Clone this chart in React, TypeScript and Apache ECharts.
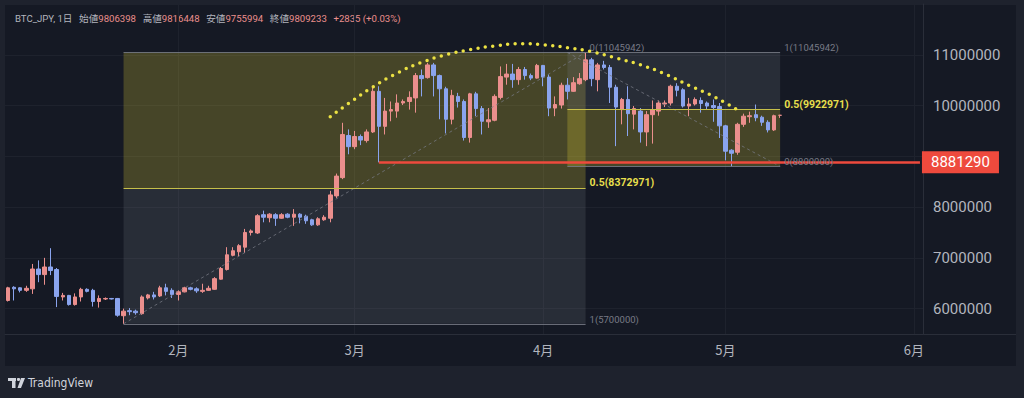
import React, { useEffect, useRef } from 'react';
import * as echarts from 'echarts';

// ---------- header ----------
const SYMBOL = 'BTC_JPY, 1日';
const HEADER_LABELS = ['始値', '高値', '安値', '終値'];
const HEADER_VALUES = ['9806398', '9816448', '9755994', '9809233'];
const HEADER_CHANGE = '+2835 (+0.03%)';

// ---------- axis ----------
const FIRST_DAY = '2024-01-04';
const AXIS_DAYS = 151; // Jan 4 .. Jun 2
const Y_LABELS = [6000000, 7000000, 8000000, 10000000, 11000000];
const GRID_PRICES = [6000000, 7000000, 8000000, 9000000, 10000000, 11000000];

// ---------- daily candles (Jan 4 .. May 10, 2024) ----------
const OPEN = [
  6160000, 6420000, 6410000, 6360000, 6390000, 6780000, 6670000, 6820000, 6770000, 6230000,
  6260000, 6080000, 6230000, 6380000, 6360000, 6140000, 6190000, 6200000, 6200000, 5860000,
  5960000, 5950000, 5900000, 6210000, 6270000, 6250000, 6410000, 6360000, 6280000, 6330000,
  6410000, 6390000, 6340000, 6360000, 6380000, 6580000, 6770000, 7050000, 7120000, 7210000,
  7500000, 7490000, 7850000, 7790000, 7850000, 7780000, 7860000, 7800000, 7860000, 7820000,
  7750000, 7650000, 7750000, 7780000, 8220000, 8580000, 9410000, 9190000, 9390000, 9310000,
  9480000, 10280000, 9590000, 9890000, 9890000, 10050000, 10080000, 10150000, 10590000, 10550000,
  10800000, 10590000, 10330000, 9730000, 10180000, 10080000, 9370000, 10230000, 9940000, 9680000,
  9710000, 10160000, 10560000, 10620000, 10510000, 10710000, 10590000, 10540000, 10790000, 10560000,
  9950000, 10010000, 10400000, 10280000, 10430000, 10510000, 10900000, 10510000, 10800000, 10750000,
  10360000, 9920000, 10120000, 9830000, 9890000, 9480000, 9820000, 9890000, 10030000, 10050000,
  10380000, 10310000, 9990000, 10030000, 10100000, 10050000, 10000000, 9980000, 9600000, 9120000,
  9080000, 9630000, 9780000, 9820000, 9770000, 9670000, 9520000, 9806398,
];
const HIGH = [
  6430000, 6440000, 6420000, 6450000, 6880000, 6950000, 7000000, 7190000, 6800000, 6310000,
  6270000, 6300000, 6410000, 6400000, 6390000, 6260000, 6220000, 6210000, 6210000, 6000000,
  6010000, 5980000, 6260000, 6290000, 6330000, 6450000, 6490000, 6400000, 6360000, 6430000,
  6430000, 6420000, 6490000, 6450000, 6620000, 6820000, 7210000, 7210000, 7270000, 7570000,
  7560000, 7860000, 7930000, 7880000, 7880000, 7880000, 7880000, 7960000, 7880000, 7850000,
  7770000, 7800000, 7840000, 8320000, 8660000, 9660000, 9530000, 9500000, 9430000, 9530000,
  10370000, 10380000, 10150000, 10080000, 10220000, 10120000, 10280000, 10640000, 10710000, 10840000,
  10840000, 10610000, 10370000, 10310000, 10250000, 10120000, 10250000, 10270000, 9990000, 9950000,
  10220000, 10770000, 10820000, 10820000, 10760000, 10760000, 10630000, 10820000, 10800000, 10610000,
  10180000, 10450000, 10540000, 10560000, 10640000, 11045942, 10940000, 10840000, 10880000, 10800000,
  10410000, 10150000, 10380000, 9990000, 9950000, 9890000, 10100000, 10100000, 10100000, 10410000,
  10440000, 10340000, 10150000, 10160000, 10160000, 10080000, 10120000, 10050000, 9620000, 9140000,
  9660000, 9840000, 9880000, 10020000, 9800000, 9710000, 9820000, 9816448,
];
const LOW = [
  6140000, 6160000, 6320000, 6330000, 6290000, 6520000, 6470000, 6660000, 6030000, 6160000,
  6060000, 6060000, 6140000, 6320000, 6040000, 6020000, 6170000, 6180000, 5840000, 5700000,
  5870000, 5880000, 5880000, 6180000, 6180000, 6230000, 6260000, 6210000, 6160000, 6320000,
  6360000, 6310000, 6310000, 6350000, 6370000, 6570000, 6750000, 7030000, 7030000, 7100000,
  7440000, 7470000, 7700000, 7700000, 7630000, 7770000, 7780000, 7630000, 7680000, 7670000,
  7630000, 7630000, 7730000, 7700000, 8180000, 8550000, 9040000, 9140000, 9220000, 9270000,
  9460000, 8881290, 9430000, 9690000, 9760000, 10010000, 9920000, 9860000, 10180000, 10530000,
  10180000, 9730000, 9450000, 9630000, 9960000, 9310000, 9270000, 9790000, 9430000, 9560000,
  9690000, 10120000, 10410000, 10350000, 10410000, 10510000, 10500000, 10530000, 10380000, 9790000,
  9790000, 9940000, 10120000, 10270000, 10410000, 10480000, 10380000, 10280000, 10710000, 10050000,
  9200000, 9630000, 9400000, 9530000, 9270000, 9200000, 9250000, 9800000, 9970000, 10000000,
  10180000, 9960000, 9790000, 10000000, 9860000, 9920000, 9680000, 9360000, 8920000, 8800000,
  9030000, 9580000, 9660000, 9690000, 9600000, 9470000, 9500000, 9755994,
];
const CLOSE = [
  6410000, 6390000, 6360000, 6400000, 6780000, 6670000, 6820000, 6750000, 6240000, 6260000,
  6080000, 6230000, 6380000, 6340000, 6140000, 6200000, 6200000, 6190000, 5870000, 5950000,
  5940000, 5920000, 6230000, 6270000, 6230000, 6410000, 6340000, 6280000, 6330000, 6410000,
  6380000, 6350000, 6360000, 6400000, 6590000, 6790000, 7060000, 7140000, 7240000, 7500000,
  7530000, 7830000, 7800000, 7860000, 7780000, 7850000, 7800000, 7860000, 7800000, 7730000,
  7650000, 7770000, 7800000, 8240000, 8610000, 9430000, 9190000, 9390000, 9320000, 9480000,
  10280000, 9590000, 9890000, 9920000, 10050000, 10080000, 10160000, 10590000, 10530000, 10800000,
  10590000, 10330000, 9730000, 10200000, 10080000, 9370000, 10230000, 9940000, 9690000, 9720000,
  10180000, 10570000, 10620000, 10510000, 10710000, 10590000, 10540000, 10790000, 10560000, 9950000,
  10020000, 10400000, 10280000, 10450000, 10530000, 10900000, 10530000, 10800000, 10750000, 10360000,
  9970000, 10120000, 9840000, 9940000, 9480000, 9820000, 9920000, 10050000, 10050000, 10380000,
  10300000, 9990000, 10030000, 10120000, 10040000, 9990000, 9960000, 9600000, 9100000, 9060000,
  9630000, 9790000, 9800000, 9760000, 9670000, 9520000, 9800000, 9809233,
];

// ---------- drawings ----------
const FIB1_DATES = ['2024-01-23', '2024-04-08'];
const FIB1_LEVELS = [11045942, 8372971, 5700000];
const FIB1_NAMES = ['0', '0.5', '1'];
const FIB2_DATES = ['2024-04-05', '2024-05-10'];
const FIB2_LEVELS = [11045942, 9922971, 8800000];
const FIB2_NAMES = ['1', '0.5', '0'];
const SUPPORT_DATE = '2024-03-05';
const SUPPORT_PRICE = 8881290;
const ARC_DATES = [
  '2024-02-26', '2024-02-29', '2024-03-04', '2024-03-08', '2024-03-12', '2024-03-16',
  '2024-03-20', '2024-03-24', '2024-03-28', '2024-04-01', '2024-04-05', '2024-04-09',
  '2024-04-13', '2024-04-17', '2024-04-21', '2024-04-25', '2024-04-29', '2024-05-03',
];
const ARC_PRICES = [
  9777000, 10041000, 10365000, 10639000, 10848000, 10998000,
  11100000, 11174000, 11217000, 11197000, 11140000, 11059000,
  10935000, 10803000, 10625000, 10398000, 10181000, 9915000,
];

// ---------- styles ----------
const FRAME_BG = '#1e222d';
const PANE_BG = '#151924';
const TEXT = '#b2b5be';
const UP = '#eb8f8d';
const DOWN = '#8aa4ee';
const RED = '#ee4a3d';
const OLIVE = 'rgba(255,235,59,0.21)';
const GREY = 'rgba(120,123,134,0.2)';
const FIB_EDGE = 'rgba(120,123,134,0.85)';
const FIB_MID = '#c6bf4a';
const YELLOW_TEXT = '#e7df4c';
const GRID_COLOR = '#1e222d';
const FONT = 'Roboto, "Noto Sans CJK JP", sans-serif';

function buildDates(): string[] {
  const out: string[] = [];
  const d = new Date(FIRST_DAY + 'T00:00:00Z');
  for (let i = 0; i < AXIS_DAYS; i++) {
    out.push(d.toISOString().slice(0, 10));
    d.setUTCDate(d.getUTCDate() + 1);
  }
  return out;
}

export default function App() {
  const ref = useRef<HTMLDivElement>(null);

  useEffect(() => {
    const chart = echarts.init(ref.current!, null, { renderer: 'svg' });
    const dates = buildDates();
    const candles = OPEN.map((o, i) => [o, CLOSE[i], LOW[i], HIGH[i]]);
    const isMonthStart = (_i: number, v: string) => v.slice(8, 10) === '01';

    const levelLine = (ds: string[], value: number, name: string) => {
      const mid = name === '0.5';
      return [
        {
          coord: [ds[0], value],
          lineStyle: { color: mid ? FIB_MID : FIB_EDGE, width: 1, type: 'solid' },
          label: {
            show: true,
            position: 'end',
            formatter: `${name}(${value})`,
            color: mid ? YELLOW_TEXT : '#787b86',
            fontSize: mid ? 10.5 : 9.5,
            fontWeight: mid ? 'bold' : 'normal',
            fontFamily: FONT,
            verticalAlign: 'bottom',
            distance: 4,
          },
        },
        { coord: [ds[1], value] },
      ];
    };

    const fibAreas = (ds: string[], levels: number[], topColor: string, bottomColor: string) => [
      [{ coord: [ds[0], levels[0]], itemStyle: { color: topColor } }, { coord: [ds[1], levels[1]] }],
      [{ coord: [ds[0], levels[1]], itemStyle: { color: bottomColor } }, { coord: [ds[1], levels[2]] }],
    ];

    const trend = (a: [string, number], b: [string, number]) => [
      { coord: a, lineStyle: { color: 'rgba(120,123,134,0.75)', width: 1, type: [3, 3] }, label: { show: false } },
      { coord: b },
    ];

    const headerText =
      `{s|${SYMBOL}}  ` +
      HEADER_LABELS.map((l, i) => `{l|${l}}{v|${HEADER_VALUES[i]}}`).join('  ') +
      `  {v|${HEADER_CHANGE}}`;

    const option: any = {
      animation: false,
      backgroundColor: FRAME_BG,
      grid: { left: 5, right: 101, top: 4, bottom: 64, containLabel: false },
      xAxis: {
        type: 'category',
        data: dates,
        boundaryGap: true,
        axisLine: { show: true, lineStyle: { color: '#2a2e39' } },
        axisTick: { show: false },
        axisLabel: {
          interval: isMonthStart,
          formatter: (v: string) => `${parseInt(v.slice(5, 7), 10)}月`,
          color: TEXT,
          fontSize: 13,
          margin: 9,
          fontFamily: '"Noto Sans CJK JP", sans-serif',
        },
        splitLine: { show: true, interval: isMonthStart, alignWithLabel: true, lineStyle: { color: GRID_COLOR } },
      },
      yAxis: {
        type: 'value',
        position: 'right',
        min: 5500000,
        max: 12000000,
        interval: 500000,
        axisLine: { show: true, lineStyle: { color: '#2a2e39' } },
        axisTick: { show: false },
        splitLine: { show: false },
        axisLabel: {
          formatter: (v: number) => (Y_LABELS.includes(v) ? String(v) : ''),
          color: TEXT,
          fontSize: 15,
          margin: 10,
          align: 'left',
          fontFamily: FONT,
        },
      },
      graphic: [
        { type: 'rect', z: -10, silent: true, shape: { x: 5, y: 5, width: 1011, height: 361 }, style: { fill: PANE_BG } },
        { type: 'line', silent: true, shape: { x1: 923, y1: 334.5, x2: 1016, y2: 334.5 }, style: { stroke: '#2a2e39', lineWidth: 1 } },
        {
          type: 'text',
          x: 15,
          y: 18,
          silent: true,
          style: {
            text: headerText,
            verticalAlign: 'middle',
            rich: {
              s: { fill: TEXT, fontSize: 9.6, fontFamily: FONT },
              l: { fill: TEXT, fontSize: 9.6, fontFamily: FONT },
              v: { fill: UP, fontSize: 9.6, fontFamily: FONT },
            },
          },
        },
        { type: 'rect', silent: true, shape: { x: 8, y: 378, width: 8, height: 3 }, style: { fill: '#d1d4dc' } },
        { type: 'rect', silent: true, shape: { x: 12, y: 378, width: 3.5, height: 10 }, style: { fill: '#d1d4dc' } },
        { type: 'circle', silent: true, shape: { cx: 18.5, cy: 379.5, r: 1.6 }, style: { fill: '#d1d4dc' } },
        { type: 'polygon', silent: true, shape: { points: [[21, 378], [25, 378], [21, 388], [17.5, 388]] }, style: { fill: '#d1d4dc' } },
        {
          type: 'text',
          x: 28,
          y: 383,
          silent: true,
          style: {
            text: 'TradingView',
            fill: '#d1d4dc',
            fontSize: 12,
            fontFamily: '"Liberation Sans Narrow", "DejaVu Sans Condensed", sans-serif',
            verticalAlign: 'middle',
          },
        },
      ],
      series: [
        {
          name: 'gridlines',
          type: 'line',
          data: [],
          z: 0,
          silent: true,
          markLine: {
            z: 0,
            silent: true,
            symbol: ['none', 'none'],
            label: { show: false },
            lineStyle: { color: GRID_COLOR, width: 1, type: 'solid' },
            data: GRID_PRICES.map((v) => ({ yAxis: v })),
          },
        },
        {
          name: 'fibAreas',
          type: 'line',
          data: [],
          z: 1,
          silent: true,
          markArea: {
            z: 1,
            silent: true,
            data: [
              ...fibAreas(FIB1_DATES, FIB1_LEVELS, OLIVE, GREY),
              ...fibAreas(FIB2_DATES, FIB2_LEVELS, GREY, OLIVE),
            ],
          },
        },
        {
          name: 'BTC_JPY',
          type: 'candlestick',
          z: 3,
          barWidth: 4,
          data: candles,
          itemStyle: { color: UP, color0: DOWN, borderColor: UP, borderColor0: DOWN, borderWidth: 1 },
        },
        {
          name: 'drawings',
          type: 'line',
          data: [],
          z: 4,
          silent: true,
          markLine: {
            silent: true,
            symbol: ['none', 'none'],
            data: [
              trend([FIB1_DATES[0], FIB1_LEVELS[2]], [FIB1_DATES[1], FIB1_LEVELS[0]]),
              trend([FIB2_DATES[0], FIB2_LEVELS[0]], [FIB2_DATES[1], FIB2_LEVELS[2]]),
              ...FIB1_LEVELS.map((v, i) => levelLine(FIB1_DATES, v, FIB1_NAMES[i])),
              ...FIB2_LEVELS.map((v, i) => levelLine(FIB2_DATES, v, FIB2_NAMES[i])),
              [
                {
                  coord: [SUPPORT_DATE, SUPPORT_PRICE],
                  lineStyle: { color: RED, width: 2.5, type: 'solid' },
                  label: {
                    show: true,
                    position: 'end',
                    formatter: String(SUPPORT_PRICE),
                    backgroundColor: RED,
                    color: '#ffffff',
                    fontSize: 15,
                    fontFamily: FONT,
                    padding: [4, 9, 3, 9],
                    distance: 2,
                  },
                },
                { coord: [dates[dates.length - 1], SUPPORT_PRICE] },
              ],
            ],
          },
        },
        {
          name: 'arc',
          type: 'line',
          z: 5,
          silent: true,
          smooth: 0.5,
          showSymbol: false,
          data: ARC_DATES.map((d, i) => [d, ARC_PRICES[i]]),
          lineStyle: { color: '#ece243', width: 3.5, type: [0, 7.5], cap: 'round' },
        },
      ],
    };

    chart.setOption(option);
    return () => chart.dispose();
  }, []);

  return <div ref={ref} style={{ position: 'fixed', left: 0, top: 0, width: 1024, height: 398 }} />;
}
